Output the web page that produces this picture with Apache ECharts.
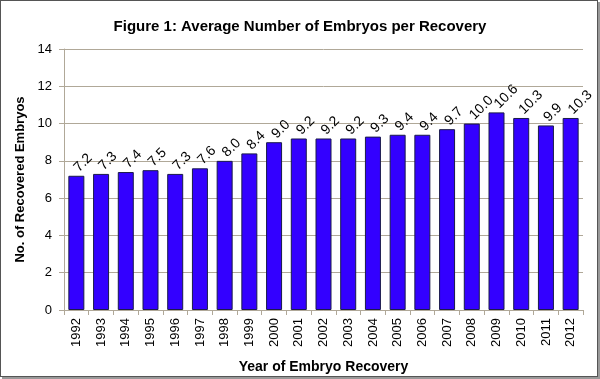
<!DOCTYPE html>
<html><head><meta charset="utf-8">
<script src="https://cdn.jsdelivr.net/npm/echarts@6/dist/echarts.min.js"></script>
<style>html,body{margin:0;padding:0;background:#fff}#c{width:600px;height:379px}
#frame{position:absolute;left:0;top:0;width:596px;height:375px;border:1px solid #555;box-shadow:2px 2px 0 #999;pointer-events:none}</style>
</head><body><div id="c"></div><div id="frame"></div>
<script>
const years = ['1992','1993','1994','1995','1996','1997','1998','1999','2000','2001','2002','2003','2004','2005','2006','2007','2008','2009','2010','2011','2012'];
const embryos = [7.2,7.3,7.4,7.5,7.3,7.6,8.0,8.4,9.0,9.2,9.2,9.2,9.3,9.4,9.4,9.7,10.0,10.6,10.3,9.9,10.3];
const chart = echarts.init(document.getElementById('c'));
chart.setOption({
  animation:false,
  title:{text:'Figure 1: Average Number of Embryos per Recovery',left:'center',top:14,
    textStyle:{fontFamily:'Liberation Sans',fontWeight:'bold',fontSize:15,color:'#000'}},
  grid:{left:64,right:17,top:49,bottom:68},
  xAxis:{type:'category',data:years,name:'Year of Embryo Recovery',nameLocation:'middle',nameGap:50,
    nameTextStyle:{fontFamily:'Liberation Sans',fontWeight:'bold',fontSize:14,color:'#000'},
    axisLine:{lineStyle:{color:'#b0a898'}},axisTick:{show:true,lineStyle:{color:'#b0a898'}},
    axisLabel:{rotate:90,fontFamily:'Liberation Sans',fontSize:13,color:'#000',margin:8}},
  yAxis:{type:'value',min:0,max:14,interval:2,name:'No. of Recovered Embryos',nameLocation:'middle',nameGap:34,
    nameTextStyle:{fontFamily:'Liberation Sans',fontWeight:'bold',fontSize:13,color:'#000'},
    axisLine:{show:true,lineStyle:{color:'#b0a898'}},axisTick:{show:true,lineStyle:{color:'#b0a898'}},
    splitLine:{lineStyle:{color:'#b0a898'}},
    axisLabel:{fontFamily:'Liberation Sans',fontSize:13,color:'#000',margin:12}},
  series:[{type:'bar',data:embryos,barWidth:16,
    itemStyle:{color:'#3300ff',borderColor:'#1a1a4a',borderWidth:1},
    label:{show:true,position:'top',rotate:45,align:'left',verticalAlign:'middle',distance:6,
      formatter:p=>p.value.toFixed(1),fontFamily:'Liberation Sans',fontSize:14,color:'#000'}}]
});
</script></body></html>
